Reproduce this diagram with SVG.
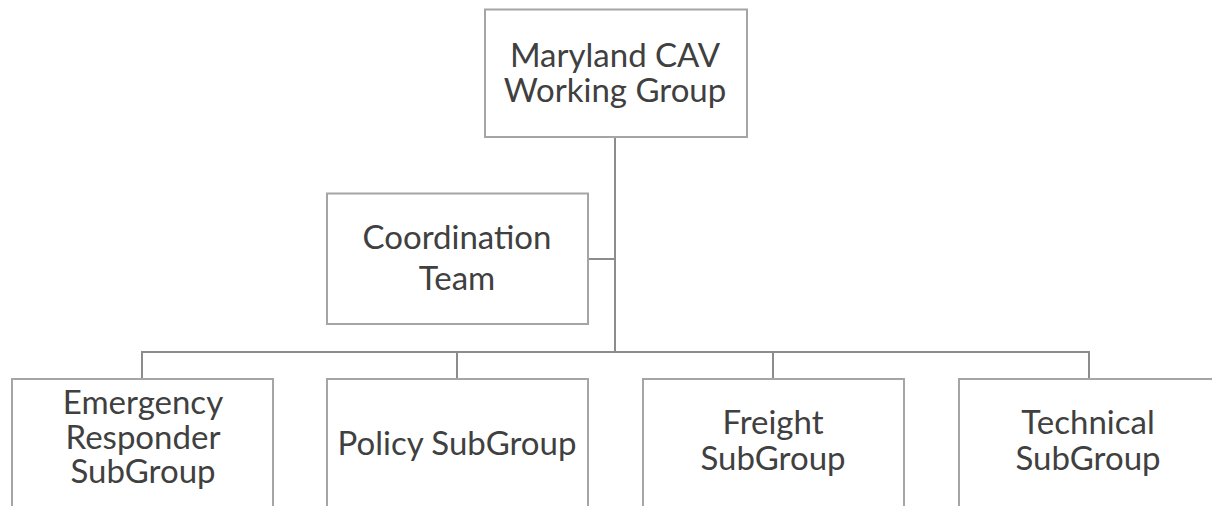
<svg xmlns="http://www.w3.org/2000/svg" width="1212" height="506" viewBox="0 0 1212 506">
<style>
.box{fill:#fff;stroke:#a5a5a5;stroke-width:2}
.t{font-family:Lato,"Open Sans","Liberation Sans",sans-serif;font-size:33px;fill:#404040;text-anchor:middle}
.c{fill:none;stroke:#8c8c8c;stroke-width:2}
</style>
<rect width="1212" height="506" fill="#fff"/>
<g id="connectors">
<line class="c" x1="615" y1="137" x2="615" y2="352"/>
<line class="c" x1="588" y1="259" x2="615" y2="259"/>
<polyline class="c" points="142,379 142,352 1089,352 1089,379"/>
<line class="c" x1="457" y1="352" x2="457" y2="379"/>
<line class="c" x1="773" y1="352" x2="773" y2="379"/>
</g>
<g id="n-working-group">
<rect class="box" x="485" y="9.5" width="262" height="127.5"/>
<text class="t"><tspan x="615" y="66.5">Maryland CAV</tspan><tspan x="615" y="101.5">Working Group</tspan></text>
</g>
<g id="n-coordination">
<rect class="box" x="327" y="193.5" width="261" height="130.5"/>
<text class="t"><tspan x="457" y="249">Coordination</tspan><tspan x="457" y="290">Team</tspan></text>
</g>
<g id="n-emergency">
<rect class="box" x="12" y="379" width="261" height="140"/>
<text class="t"><tspan x="143" y="414">Emergency</tspan><tspan x="143" y="448.5">Responder</tspan><tspan x="143" y="483">SubGroup</tspan></text>
</g>
<g id="n-policy">
<rect class="box" x="327" y="379" width="261" height="140"/>
<text class="t" x="457" y="455">Policy SubGroup</text>
</g>
<g id="n-freight">
<rect class="box" x="643" y="379" width="261" height="140"/>
<text class="t"><tspan x="773" y="433.5">Freight</tspan><tspan x="773" y="470">SubGroup</tspan></text>
</g>
<g id="n-technical">
<rect class="box" x="959" y="379" width="261" height="140"/>
<text class="t"><tspan x="1088" y="434">Technical</tspan><tspan x="1088" y="470">SubGroup</tspan></text>
</g>
</svg>
